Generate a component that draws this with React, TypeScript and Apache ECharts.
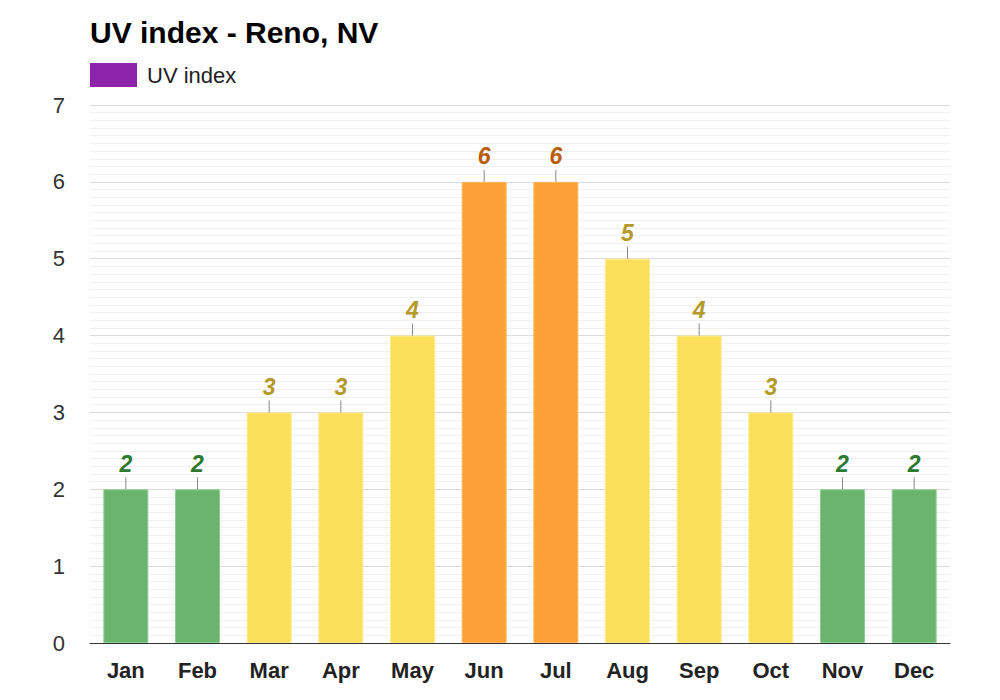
import React, { useEffect, useRef } from "react";
import * as echarts from "echarts";

const months = ["Jan", "Feb", "Mar", "Apr", "May", "Jun", "Jul", "Aug", "Sep", "Oct", "Nov", "Dec"];
const uvIndex = [2, 2, 3, 3, 4, 6, 6, 5, 4, 3, 2, 2];
const yTicks = [0, 1, 2, 3, 4, 5, 6, 7];

function levelColors(v: number) {
  if (v <= 2) return { fill: "#6ab46e", border: "#8fce92", label: "#2b7a30" };
  if (v <= 5) return { fill: "#fce05c", border: "#fde98a", label: "#b39a2a" };
  return { fill: "#fda035", border: "#fdb862", label: "#b85c05" };
}

export default function App() {
  const ref = useRef<HTMLDivElement>(null);
  useEffect(() => {
    if (!ref.current) return;
    const chart = echarts.init(ref.current, undefined, { renderer: "svg" });
    const font = "Liberation Sans, Arial, Helvetica, sans-serif";
    chart.setOption({
      animation: false,
      backgroundColor: "#ffffff",
      title: {
        text: "UV index - Reno, NV",
        left: 85,
        top: 12,
        textStyle: { fontFamily: font, fontSize: 30, fontWeight: "bold", color: "#000" },
      },
      legend: {
        left: 85,
        top: 58,
        itemWidth: 47,
        itemHeight: 24,
        itemGap: 10,
        icon: "rect",
        data: [{ name: "UV index", itemStyle: { color: "#8e24aa" } }],
        textStyle: { fontFamily: font, fontSize: 22, color: "#222", padding: [0, 0, 0, 5] },
        selectedMode: false,
      },
      grid: { left: 90, right: 50, top: 105, bottom: 57, containLabel: false },
      xAxis: {
        type: "category",
        data: months,
        axisLine: { lineStyle: { color: "#333", width: 1 } },
        axisTick: { show: false },
        axisLabel: {
          fontFamily: font,
          fontSize: 22,
          fontWeight: "bold",
          color: "#222",
          margin: 16,
        },
      },
      yAxis: {
        type: "value",
        min: 0,
        max: 7,
        interval: 1,
        minorTick: { show: false, splitNumber: 10 },
        minorSplitLine: { show: true, lineStyle: { color: "#f0f0f0", width: 1 } },
        splitLine: { show: true, lineStyle: { color: "#dcdcdc", width: 1 } },
        axisLine: { show: false },
        axisTick: { show: false },
        axisLabel: {
          fontFamily: font,
          fontSize: 22,
          color: "#333",
          margin: 25,
          formatter: (v: number) => (yTicks.includes(v) ? String(v) : ""),
        },
      },
      series: [
        {
          name: "UV index",
          type: "bar",
          barWidth: 45,
          itemStyle: { color: "#8e24aa" },
          data: uvIndex.map((v) => {
            const c = levelColors(v);
            return {
              value: v,
              itemStyle: { color: c.fill, borderColor: c.border, borderWidth: 1 },
              label: { color: c.label },
            };
          }),
          label: {
            show: true,
            position: "top",
            distance: 14,
            fontFamily: font,
            fontSize: 23,
            fontWeight: "bold",
            fontStyle: "italic",
          },
        },
        {
          name: "leader",
          type: "custom",
          silent: true,
          z: 3,
          data: uvIndex.map((v, i) => [i, v]),
          renderItem: (params: any, api: any) => {
            const p = api.coord([api.value(0), api.value(1)]);
            return {
              type: "line",
              shape: { x1: p[0], y1: p[1], x2: p[0], y2: p[1] - 12 },
              style: { stroke: "#888", lineWidth: 1 },
            };
          },
        },
      ],
    });
    return () => chart.dispose();
  }, []);
  return <div ref={ref} style={{ width: 1000, height: 700, margin: -8 }} />;
}
